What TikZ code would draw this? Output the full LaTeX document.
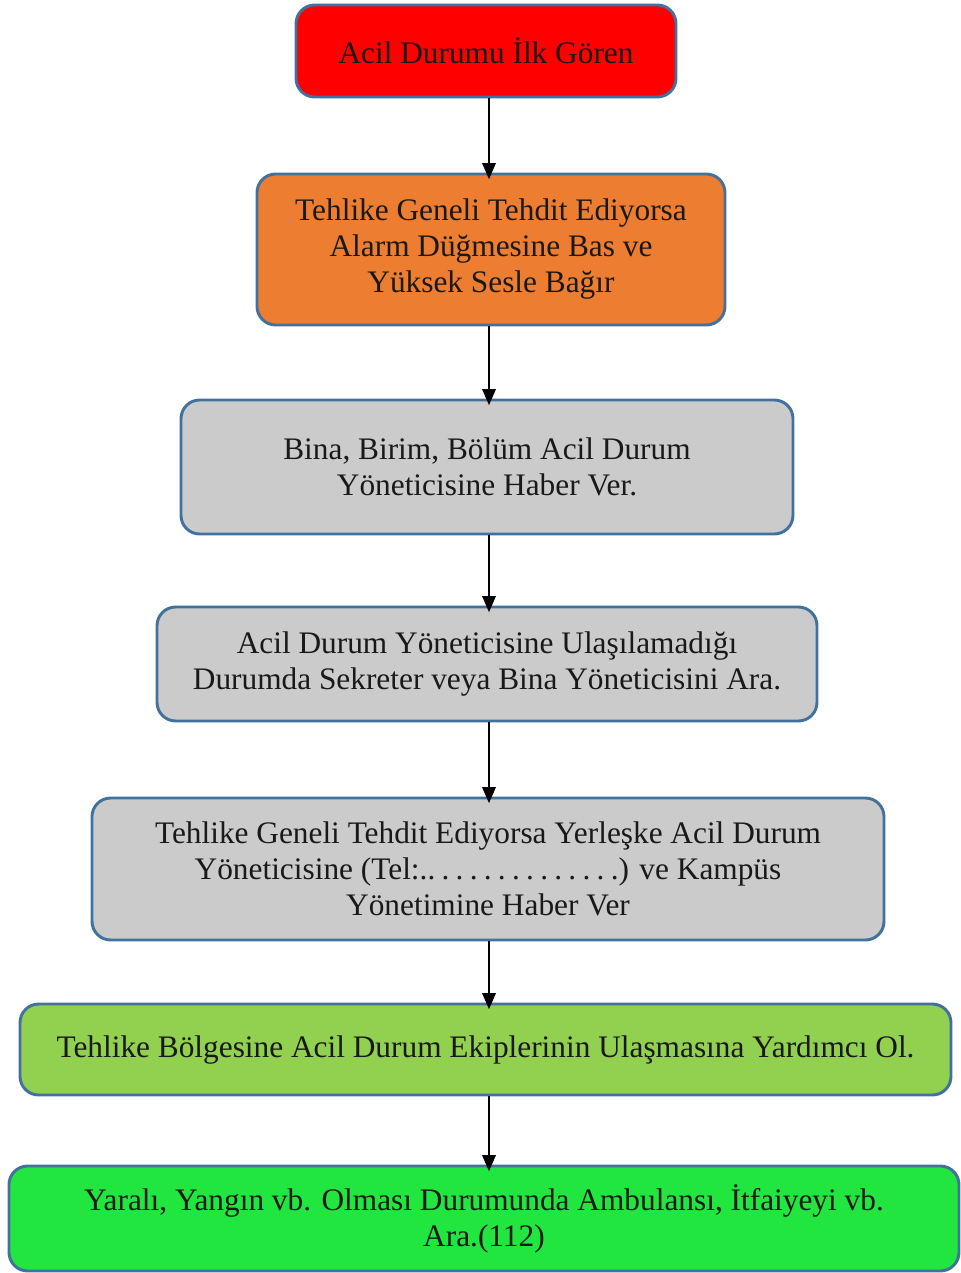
\documentclass[tikz,border=0pt]{standalone}
\usepackage{fontspec}
\setmainfont{Liberation Serif}
\usetikzlibrary{arrows.meta}
\definecolor{edge}{HTML}{41719C}
\definecolor{cred}{HTML}{FF0000}
\definecolor{corange}{HTML}{ED7D31}
\definecolor{cgray}{HTML}{CBCBCB}
\definecolor{clgreen}{HTML}{92D050}
\definecolor{cgreen}{HTML}{22E640}
\newcommand{\dd}{.\hspace{0.2em}}
\tikzset{
  stepbox/.style={draw=edge, line width=2.2pt, rounded corners=14pt, align=center,
    font=\fontsize{23.5}{27}\selectfont, text=black!90, inner sep=0pt},
  flow/.style={-{Triangle[length=12pt,width=10pt]}, line width=1.5pt, black}
}
\begin{document}
\begin{tikzpicture}[x=0.75pt,y=-0.75pt]
\useasboundingbox (0,0) rectangle (960,1273);
\node[stepbox, fill=cred, minimum width=380*0.75pt, minimum height=92*0.75pt] (n1) at (486,51) {Acil Durumu İlk Gören};
\node[stepbox, fill=corange, minimum width=468*0.75pt, minimum height=151*0.75pt] (n2) at (491,249.5) {Tehlike Geneli Tehdit Ediyorsa\\Alarm Düğmesine Bas ve\\Yüksek Sesle Bağır};
\node[stepbox, fill=cgray, minimum width=612*0.75pt, minimum height=134*0.75pt] (n3) at (487,467) {Bina, Birim, Bölüm Acil Durum\\Yöneticisine Haber Ver.};
\node[stepbox, fill=cgray, minimum width=660*0.75pt, minimum height=114*0.75pt] (n4) at (487,664) {Acil Durum Yöneticisine Ulaşılamadığı\\Durumda Sekreter veya Bina Yöneticisini Ara.};
\node[stepbox, fill=cgray, minimum width=792*0.75pt, minimum height=142*0.75pt] (n5) at (488,869) {Tehlike Geneli Tehdit Ediyorsa Yerleşke Acil Durum\\Yöneticisine (Tel:.\dd\dd\dd\dd\dd\dd\dd\dd\dd\dd\dd\dd\dd.) ve Kampüs\\Yönetimine Haber Ver};
\node[stepbox, fill=clgreen, minimum width=931*0.75pt, minimum height=91*0.75pt] (n6) at (485.5,1049.5) {Tehlike Bölgesine Acil Durum Ekiplerinin Ulaşmasına Yardımcı Ol.};
\node[stepbox, fill=cgreen, minimum width=950*0.75pt, minimum height=105*0.75pt] (n7) at (484,1218.5) {Yaralı, Yangın vb. Olması Durumunda Ambulansı, İtfaiyeyi vb.\\Ara.(112)};
\coordinate (ax) at (489,0);
\draw[flow] (n1.south -| ax) -- ([yshift=-5pt]n2.north -| ax);
\draw[flow] (n2.south -| ax) -- ([yshift=-5pt]n3.north -| ax);
\draw[flow] (n3.south -| ax) -- ([yshift=-5pt]n4.north -| ax);
\draw[flow] (n4.south -| ax) -- ([yshift=-5pt]n5.north -| ax);
\draw[flow] (n5.south -| ax) -- ([yshift=-5pt]n6.north -| ax);
\draw[flow] (n6.south -| ax) -- ([yshift=-5pt]n7.north -| ax);
\end{tikzpicture}
\end{document}
